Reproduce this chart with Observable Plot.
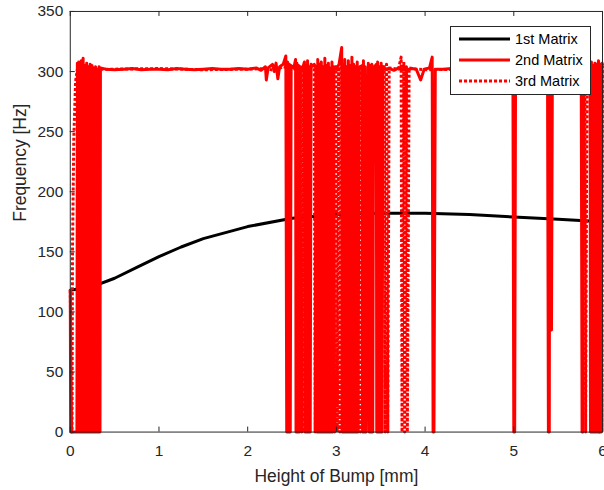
<!DOCTYPE html>
<html>
<head>
<meta charset="utf-8">
<script src="https://cdn.jsdelivr.net/npm/d3@7"></script>
<script src="https://cdn.jsdelivr.net/npm/@observablehq/plot@0.6"></script>
<style>
  html, body { margin: 0; padding: 0; background: #fff; overflow: hidden; }
  #wrap { position: relative; width: 604px; height: 490px; font-family: "Liberation Sans", Arial, Helvetica, sans-serif; }
  #legend { position: absolute; left: 450px; top: 26px; }
</style>
</head>
<body>
<div id="wrap"></div>
<script>
// ---- Data ----
const xTicks = [0, 1, 2, 3, 4, 5, 6];
const yTicks = [0, 50, 100, 150, 200, 250, 300, 350];
const xLabel = "Height of Bump [mm]";
const yLabel = "Frequency [Hz]";
const seriesNames = ["1st Matrix", "2nd Matrix", "3rd Matrix"];

// [height of bump (mm), frequency (Hz)]
const matrix1 = [
  [0, 118], [0.25, 121], [0.5, 128], [0.75, 137], [1.0, 146], [1.25, 154], [1.5, 161],
  [2.0, 171], [2.5, 178], [3.0, 181], [3.5, 182], [4.0, 182], [4.5, 181],
  [5.0, 179], [5.5, 177], [6.0, 175]
];

const matrix2 = [
  [0, 118], [0.005, 0], [0.075, 0], [0.08, 307], [0.09, 0], [0.095, 308], [0.105, 0],
  [0.11, 306], [0.12, 0], [0.125, 309], [0.135, 0], [0.145, 311], [0.155, 0], [0.165, 305],
  [0.175, 0], [0.185, 307], [0.195, 0], [0.205, 304], [0.215, 0], [0.225, 306], [0.235, 0],
  [0.245, 305], [0.255, 0], [0.265, 303], [0.275, 0], [0.285, 304], [0.295, 0], [0.30, 302],
  [0.31, 0], [0.32, 0], [0.325, 304], [0.335, 0], [0.34, 303],
  [0.4, 302], [0.5, 301.5], [0.6, 302], [0.7, 302.5], [0.8, 301.5], [0.9, 302],
  [1.0, 302], [1.1, 301.5], [1.2, 302.5], [1.3, 302], [1.4, 301.5], [1.5, 302], [1.6, 302.5],
  [1.7, 302], [1.8, 302], [1.9, 302.5], [2.0, 302], [2.1, 303], [2.15, 301], [2.2, 304],
  [2.21, 293], [2.23, 303], [2.28, 306], [2.30, 300], [2.32, 307], [2.34, 294], [2.36, 304],
  [2.40, 306], [2.43, 313], [2.44, 0], [2.45, 308], [2.46, 0], [2.47, 306], [2.48, 0],
  [2.49, 305], [2.52, 303],
  [2.54, 310], [2.545, 0], [2.555, 307], [2.565, 0], [2.575, 305], [2.585, 0], [2.595, 304],
  [2.62, 303], [2.64, 308], [2.645, 0], [2.655, 305], [2.665, 0], [2.675, 309], [2.685, 0],
  [2.695, 304], [2.705, 0], [2.715, 306], [2.72, 304], [2.75, 306], [2.77, 303],
  [2.78, 0], [2.79, 310], [2.80, 0], [2.81, 306], [2.82, 0], [2.83, 308], [2.84, 0],
  [2.85, 304], [2.86, 0], [2.87, 311], [2.88, 0], [2.89, 305], [2.90, 0], [2.91, 307],
  [2.92, 0], [2.93, 303], [2.94, 0], [2.95, 308], [2.96, 0], [2.97, 304], [3.00, 302],
  [3.03, 306], [3.06, 320], [3.065, 0], [3.075, 306], [3.085, 0], [3.095, 310], [3.105, 0],
  [3.115, 304], [3.125, 0], [3.135, 309], [3.145, 0], [3.155, 305], [3.165, 0], [3.175, 312],
  [3.185, 0], [3.195, 306], [3.205, 0], [3.215, 304], [3.225, 0], [3.235, 308], [3.245, 0],
  [3.255, 303], [3.29, 305], [3.295, 0], [3.305, 309], [3.315, 0], [3.325, 304], [3.335, 0],
  [3.36, 307], [3.37, 0], [3.38, 305], [3.39, 0], [3.40, 306], [3.41, 0], [3.42, 303],
  [3.45, 306], [3.455, 0], [3.465, 308], [3.475, 0], [3.485, 304], [3.495, 0], [3.505, 307],
  [3.515, 0], [3.525, 304], [3.54, 302], [3.6, 302.5], [3.65, 301],
  [3.7, 303], [3.75, 302], [3.8, 301.5], [3.85, 302.5], [3.9, 302], [3.95, 293], [3.99, 302],
  [4.05, 303], [4.08, 312], [4.09, 0], [4.10, 0], [4.115, 302], [4.2, 302], [4.3, 302.5], [4.4, 302],
  [4.5, 301.5], [4.6, 302], [4.7, 302.5], [4.8, 302], [4.9, 302], [4.99, 302], [5.0, 0],
  [5.01, 0], [5.02, 302], [5.1, 302.5], [5.2, 302], [5.3, 301.5], [5.38, 302], [5.39, 0],
  [5.40, 0], [5.405, 302], [5.415, 85], [5.425, 85], [5.435, 302], [5.5, 302], [5.6, 302.5],
  [5.7, 302], [5.76, 303], [5.77, 0], [5.78, 0], [5.79, 302], [5.84, 304], [5.86, 306],
  [5.865, 0], [5.875, 308], [5.885, 0], [5.895, 305], [5.905, 0], [5.915, 307], [5.925, 0],
  [5.935, 306], [5.945, 0], [5.955, 309], [5.965, 0], [5.975, 305], [5.985, 0], [5.995, 307],
  [6.0, 306]
];

const matrix3 = [
  [0, 118], [0.015, 0], [0.02, 0], [0.025, 150], [0.04, 245], [0.06, 292], [0.08, 302],
  [0.35, 302], [0.5, 302], [1.0, 302.5], [1.5, 301.5], [2.0, 302], [2.2, 302.5], [2.3, 301],
  [2.4, 304], [2.5, 302], [2.6, 303], [2.61, 0], [2.625, 303], [2.64, 0], [2.65, 302],
  [2.75, 305], [2.76, 0], [2.77, 304], [2.9, 302], [2.97, 303], [2.98, 0], [2.995, 306],
  [3.01, 0], [3.025, 304], [3.04, 0], [3.055, 303], [3.2, 302], [3.26, 304], [3.27, 0],
  [3.285, 303], [3.32, 302], [3.33, 230], [3.39, 0], [3.40, 303], [3.45, 302], [3.46, 285],
  [3.5, 303], [3.54, 304], [3.55, 0], [3.565, 306], [3.58, 0], [3.595, 303], [3.7, 302],
  [3.73, 312], [3.74, 0], [3.76, 308], [3.77, 0], [3.79, 304], [3.80, 0], [3.82, 303],
  [3.9, 302], [4.0, 301.5], [4.5, 302], [5.0, 302], [5.5, 302], [5.80, 302], [5.81, 0],
  [5.825, 302], [5.86, 303], [5.875, 0], [5.89, 305], [5.905, 0], [5.92, 307], [5.935, 0],
  [5.95, 304], [5.965, 0], [5.98, 306], [5.995, 0], [6.0, 305]
];

// ---- Styles ----
const axisColor = "#262626";
const lineStyles = [
  {stroke: "#000000", strokeWidth: 3, strokeDasharray: null, strokeLinecap: "round"},
  {stroke: "#ff0000", strokeWidth: 3, strokeDasharray: null, strokeLinecap: "round"},
  {stroke: "#ff0000", strokeWidth: 3, strokeDasharray: "3,2", strokeLinecap: "butt"}
];

const W = 606, H = 490;
const mL = 70, mR = 2, mT = 11, mB = 57;
const plotW = W - mL - mR, plotH = H - mT - mB;
const tickLen = 5;

const series = [matrix1, matrix2, matrix3];
const lineMarks = series.map((s, i) => Plot.line(s, {
  x: d => d[0], y: d => d[1],
  stroke: lineStyles[i].stroke,
  strokeWidth: lineStyles[i].strokeWidth,
  strokeDasharray: lineStyles[i].strokeDasharray,
  strokeLinecap: lineStyles[i].strokeLinecap,
  strokeLinejoin: "round",
  curve: "linear"
}));

const chart = Plot.plot({
  width: W, height: H,
  marginLeft: mL, marginRight: mR, marginTop: mT, marginBottom: mB,
  style: {fontFamily: '"Liberation Sans", Arial, Helvetica, sans-serif', fontSize: "15.5px", color: axisColor, background: "#fff", overflow: "visible"},
  x: {domain: [0, 6], label: null},
  y: {domain: [0, 350], label: null},
  marks: [
    ...lineMarks,
    Plot.frame({stroke: axisColor, strokeWidth: 1}),
    Plot.tickX(xTicks, {x: d => d, insetTop: plotH - tickLen, stroke: axisColor}),
    Plot.tickX(xTicks, {x: d => d, insetBottom: plotH - tickLen, stroke: axisColor}),
    Plot.tickY(yTicks, {y: d => d, insetRight: plotW - tickLen, stroke: axisColor}),
    Plot.axisX(xTicks, {tickSize: 0, tickPadding: 13, fontSize: 15.5, fill: axisColor, label: null}),
    Plot.axisY(yTicks, {tickSize: 0, tickPadding: 7, fontSize: 15.5, fill: axisColor, label: null}),
    Plot.text([xLabel], {frameAnchor: "bottom", dy: 50, lineAnchor: "bottom", fontSize: 17.5, fill: axisColor}),
    Plot.text([yLabel], {frameAnchor: "left", dx: -50, rotate: -90, fontSize: 17.5, fill: axisColor})
  ]
});
document.getElementById("wrap").appendChild(chart);

// ---- Legend (overlay box inside the axes, top right) ----
const legW = 140, legH = 68, rowY = [13, 34, 55];
const leg = d3.select("#wrap").append("svg")
  .attr("id", "legend").attr("width", legW + 1).attr("height", legH + 1);
leg.append("rect").attr("x", 0.5).attr("y", 0.5).attr("width", legW).attr("height", legH)
  .attr("fill", "#fff").attr("stroke", axisColor).attr("stroke-width", 1);
seriesNames.forEach((name, i) => {
  const st = lineStyles[i];
  leg.append("line").attr("x1", 9).attr("x2", 60).attr("y1", rowY[i]).attr("y2", rowY[i])
    .attr("stroke", st.stroke).attr("stroke-width", st.strokeWidth)
    .attr("stroke-dasharray", st.strokeDasharray).attr("stroke-linecap", "butt");
  leg.append("text").attr("x", 65).attr("y", rowY[i]).attr("dy", "0.35em")
    .attr("font-family", '"Liberation Sans", Arial, Helvetica, sans-serif')
    .attr("font-size", 14.5).attr("fill", "#000").text(name);
});
</script>
</body>
</html>
